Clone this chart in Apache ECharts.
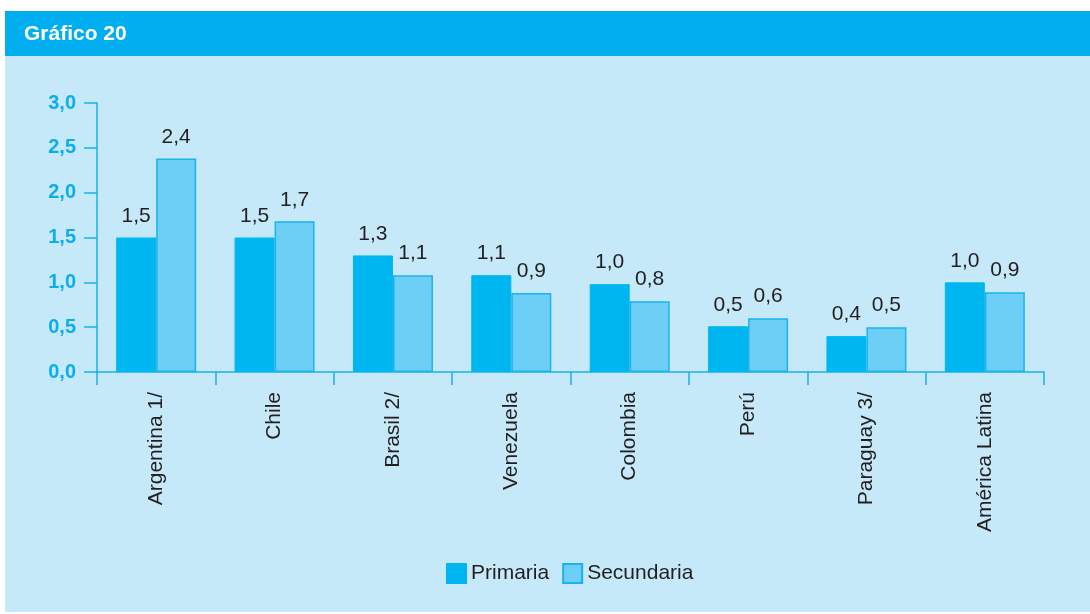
<!DOCTYPE html>
<html>
<head>
<meta charset="utf-8">
<script src="https://cdn.jsdelivr.net/npm/echarts@6/dist/echarts.min.js"></script>
<style>
  html, body { margin: 0; padding: 0; background: #fff; }
  #chart { width: 1090px; height: 614px; }
</style>
</head>
<body>
<div id="chart"></div>
<script>
const categories = ['Argentina 1/', 'Chile', 'Brasil 2/', 'Venezuela', 'Colombia', 'Perú', 'Paraguay 3/', 'América Latina']
const primaria = [1.5, 1.5, 1.3, 1.08, 0.98, 0.51, 0.4, 1.0]
const secundaria = [2.38, 1.68, 1.08, 0.88, 0.79, 0.6, 0.5, 0.89]
const yTicks = [0, 0.5, 1, 1.5, 2, 2.5, 3]

const font = "'Liberation Sans', Arial, sans-serif"
const comma = (v) => v.toFixed(1).replace('.', ',')

const chart = echarts.init(document.getElementById('chart'))
chart.setOption({
  backgroundColor: '#fff',
  textStyle: { fontFamily: font },
  graphic: [
    { type: 'rect', z: -10, shape: { x: 5, y: 11, width: 1085, height: 45 }, style: { fill: '#00AEEF' } },
    { type: 'rect', z: -10, shape: { x: 5, y: 56, width: 1085, height: 556 }, style: { fill: '#C6E9F9' } },
  ],
  title: {
    text: 'Gráfico 20',
    left: 19,
    top: 19,
    textStyle: { color: '#fff', fontSize: 21, fontWeight: 'bold', fontFamily: font },
  },
  color: ['#00B6F0', '#6DCFF6'],
  legend: {
    bottom: 25,
    left: 441,
    itemWidth: 19,
    itemHeight: 19,
    itemGap: 13,
    icon: 'rect',
    textStyle: { color: '#231F20', fontSize: 21, fontFamily: font },
  },
  grid: { left: 97, right: 46, top: 103, bottom: 242 },
  xAxis: {
    type: 'category',
    data: categories,
    axisLine: { lineStyle: { color: '#1AB0E8', width: 1.5 } },
    axisTick: { show: true, length: 13, lineStyle: { color: '#1AB0E8', width: 1.5 } },
    axisLabel: { rotate: 90, margin: 20, color: '#231F20', fontSize: 21, fontFamily: font },
  },
  yAxis: {
    type: 'value',
    min: 0,
    max: 3,
    interval: 0.5,
    axisLine: { show: true, lineStyle: { color: '#1AB0E8', width: 1.5 } },
    axisTick: { show: true, length: 13, lineStyle: { color: '#1AB0E8', width: 1.5 } },
    axisLabel: {
      margin: 21,
      color: '#0AAEEA',
      fontSize: 20,
      fontWeight: 'bold',
      fontFamily: font,
      formatter: (v) => comma(v),
    },
    splitLine: { show: false },
  },
  series: [
    {
      name: 'Primaria',
      type: 'bar',
      barWidth: 40,
      barGap: '0%',
      data: primaria,
      itemStyle: { color: '#00B6F0', borderColor: '#00B6F0', borderWidth: 1 },
      label: {
        show: true, position: 'top', distance: 11, color: '#231F20', fontSize: 21, fontFamily: font,
        formatter: (p) => comma(p.value),
      },
    },
    {
      name: 'Secundaria',
      type: 'bar',
      barWidth: 40,
      data: secundaria,
      itemStyle: { color: '#6DCFF6', borderColor: '#1BB3EC', borderWidth: 1.5 },
      label: {
        show: true, position: 'top', distance: 11, color: '#231F20', fontSize: 21, fontFamily: font,
        formatter: (p) => comma(p.value),
      },
    },
  ],
})
</script>
</body>
</html>
